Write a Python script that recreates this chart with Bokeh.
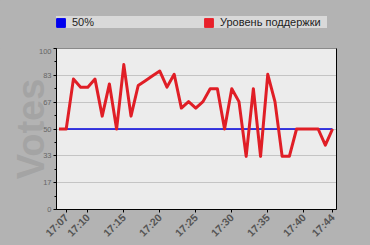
import math
from bokeh.plotting import figure
from bokeh.layouts import column
from bokeh.models import (Range1d, FixedTicker, Legend, LegendItem,
                          ColumnDataSource, LinearAxis)
from bokeh.embed import file_html
from bokeh.resources import INLINE

times = ["17:06", "17:07", "17:08", "17:09", "17:10", "17:11", "17:12", "17:13",
         "17:14", "17:15", "17:16", "17:17", "17:18", "17:19", "17:20", "17:21",
         "17:22", "17:23", "17:24", "17:25", "17:26", "17:27", "17:28", "17:29",
         "17:30", "17:31", "17:32", "17:33", "17:34", "17:35", "17:36", "17:37",
         "17:38", "17:39", "17:40", "17:41", "17:42", "17:43", "17:44"]
support = [50, 50, 81, 76, 76, 81, 58, 78, 50, 90, 58, 77, 80, 83, 86, 76,
           84, 63, 67, 63, 67, 75, 75, 50, 75, 67, 33, 75, 33, 84, 67, 33,
           33, 50, 50, 50, 50, 40, 50]
fifty = [50] * len(times)
x_tick_labels = ["17:07", "17:10", "17:15", "17:20", "17:25", "17:30", "17:35", "17:40", "17:44"]
y_tick_labels = ["0", "17", "33", "50", "67", "83", "100"]
series_names = ["50%", "Уровень поддержки"]
y_title = "Votes"


def minutes(s):
    h, m = s.split(":")
    return (int(h) - 17) * 60 + int(m)


xs = [minutes(t) for t in times]
x_ticks = [minutes(t) for t in x_tick_labels]
y_ticks = [i * 100 / 6 for i in range(7)]
y_minor = [i * 100 / 12 for i in range(13)]

BG = "#b3b3b3"
BLUE = "#0000dd"
RED = "#e01e26"

# ---------- legend strip (top) ----------
top = figure(width=370, height=48, output_backend="svg", toolbar_location=None,
             x_range=Range1d(0, 1), y_range=Range1d(0, 1),
             x_axis_type=None, y_axis_type=None, min_border=0,
             background_fill_color=BG, border_fill_color=BG,
             outline_line_color=None)
top.grid.visible = False
top.title.visible = False
sw_src = ColumnDataSource(dict(x=xs[:1], y=fifty[:1]))
sw_blue = top.quad(left="x", right="x", top="y", bottom="y", source=sw_src,
                   fill_color="#0000ee", line_color="#0000ee")
sw_red = top.quad(left="x", right="x", top="y", bottom="y", source=sw_src,
                  fill_color="#e8202a", line_color="#e8202a")
legend = Legend(items=[LegendItem(label=series_names[0], renderers=[sw_blue]),
                       LegendItem(label=series_names[1], renderers=[sw_red])],
                orientation="horizontal", location=(-1, 20),
                background_fill_color="#d9d9d9", background_fill_alpha=1,
                border_line_color=None, glyph_width=11, glyph_height=11,
                label_width=107, label_height=12, label_standoff=6,
                spacing=24, padding=3, margin=0,
                label_text_font="Liberation Sans", label_text_font_size="11px",
                label_text_color="#222222")
top.add_layout(legend, "center")

# ---------- main chart ----------
p = figure(width=370, height=197, output_backend="svg", toolbar_location=None,
           x_range=Range1d(5.65, 44.55), y_range=Range1d(0, 100),
           min_border_left=56, min_border_right=34, min_border_top=0,
           min_border_bottom=35, background_fill_color="#ececec",
           border_fill_color=BG, outline_line_color="#8a8a8a")
p.title.visible = False

src = ColumnDataSource(dict(x=xs, s=support, f=fifty))
p.line("x", "f", source=src, line_color=BLUE, line_width=1.6)
p.line("x", "s", source=src, line_color=RED, line_width=3, line_join="round")

xa = p.xaxis[0]
xa.ticker = FixedTicker(ticks=x_ticks, minor_ticks=[])
xa.major_label_overrides = {t: l for t, l in zip(x_ticks, x_tick_labels)}
xa.major_label_orientation = math.pi / 4
xa.major_label_text_font = "Liberation Sans"
xa.major_label_text_font_style = "bold"
xa.major_label_text_font_size = "10.5px"
xa.major_label_text_color = "#555555"
xa.major_tick_in = 0
xa.major_tick_out = 3
xa.axis_line_color = "#000000"
xa.major_tick_line_color = "#000000"
xa.major_label_standoff = 3

ya = p.yaxis[0]
ya.ticker = FixedTicker(ticks=y_ticks, minor_ticks=y_minor)
ya.major_label_overrides = {t: l for t, l in zip(y_ticks, y_tick_labels)}
ya.major_label_text_font = "Liberation Sans"
ya.major_label_text_font_size = "7.5px"
ya.major_label_text_color = "#666666"
ya.major_tick_in = 0
ya.major_tick_out = 3
ya.minor_tick_in = 0
ya.minor_tick_out = 2
ya.axis_line_color = "#000000"
ya.major_label_standoff = 2
ya.axis_label = y_title
ya.axis_label_text_font = "Liberation Sans"
ya.axis_label_text_font_style = "bold"
ya.axis_label_text_font_size = "38px"
ya.axis_label_text_color = "#a4a4a4"
ya.axis_label_standoff = -16
try:
    ya.axis_label_align = "left"
except Exception:
    pass

ra = LinearAxis(ticker=FixedTicker(ticks=[]), major_label_text_font_size="0px",
                axis_line_color="#000000", major_tick_line_color=None,
                minor_tick_line_color=None)
p.add_layout(ra, "right")

p.xgrid.grid_line_color = None
p.ygrid.ticker = FixedTicker(ticks=y_ticks)
p.ygrid.grid_line_color = "#c4c4c4"

layout = column(top, p, spacing=0, styles={"background-color": BG})
open("out.html", "w").write(file_html(layout, INLINE))
